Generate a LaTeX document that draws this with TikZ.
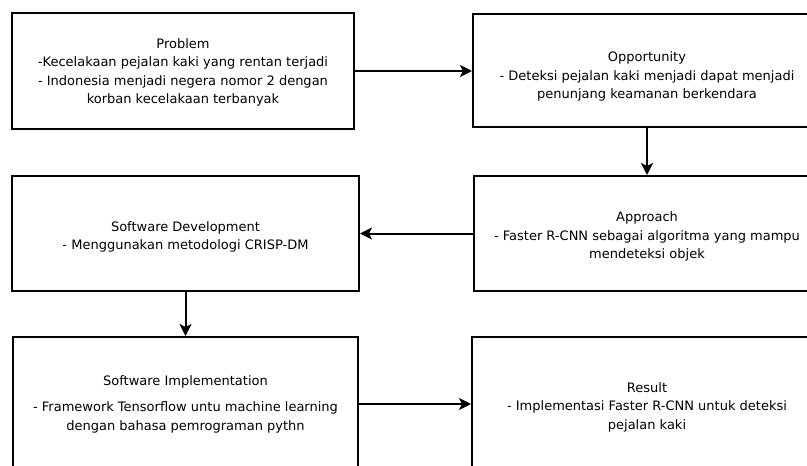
\documentclass[tikz,border=0pt]{standalone}
\usepackage{fontspec}
\setmainfont{DejaVu Sans}
\usepackage{tikz}
\usetikzlibrary{arrows.meta,positioning}

\begin{document}
\begin{tikzpicture}[x=1pt,y=-1pt,
  box/.style={draw,line width=2pt,rectangle,align=center,inner sep=0pt,
              font=\fontsize{13}{18.5}\selectfont},
  flow/.style={line width=2pt,-{Stealth[length=12pt,width=12pt,inset=3pt]}}]

% the page, the boxes on the right and below run off it
\useasboundingbox (0,0) rectangle (807,466);
\clip (0,0) rectangle (807,466);

% draw the boxes
\node[box,minimum width=342pt,minimum height=116pt] (problem) at (183,71)
  {\rule{0pt}{13pt}Problem\\-Kecelakaan pejalan kaki yang rentan terjadi\\ - Indonesia menjadi negera nomor 2 dengan\\korban kecelakaan terbanyak};
\node[box,minimum width=348pt,minimum height=113pt] (opportunity) at (647,70.5)
  {\rule{0pt}{22pt}Opportunity\\- Deteksi pejalan kaki menjadi dapat menjadi\\penunjang keamanan berkendara};
\node[box,minimum width=346pt,minimum height=115pt] (approach) at (647,233.5)
  {\rule{0pt}{16pt}Approach\\- Faster R-CNN sebagai algoritma yang mampu\\mendeteksi objek};
\node[box,minimum width=347pt,minimum height=115pt] (dev) at (185.5,233.5)
  {\rule{0pt}{17pt}Software Development\\- Menggunakan metodologi CRISP-DM};
\node[box,minimum width=345pt,minimum height=134pt] (impl) at (185.5,404)
  {Software Implementation\\[8pt]- Framework Tensorflow untu machine learning\\dengan bahasa pemrograman pythn};
\node[box,minimum width=350pt,minimum height=140pt] (result) at (647,407)
  {Result\\- Implementasi Faster R-CNN untuk deteksi\\pejalan kaki};

% draw the arrows
\draw[flow] (problem.east) -- (problem.east -| opportunity.west);
\draw[flow] (opportunity) -- (approach);
\draw[flow] (approach) -- (dev);
\draw[flow] (dev) -- (impl);
\draw[flow] (impl.east) -- (impl.east -| result.west);

\end{tikzpicture}
\end{document}
